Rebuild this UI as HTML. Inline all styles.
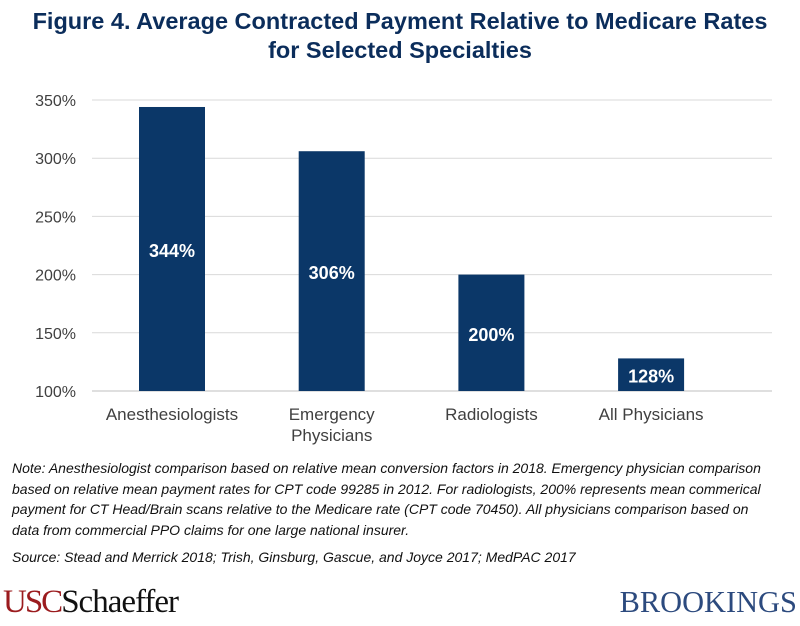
<!DOCTYPE html>
<html><head><meta charset="utf-8">
<style>
body{margin:0;width:800px;height:626px;background:#fff;font-family:"Liberation Sans",sans-serif;overflow:hidden;position:relative}
.title{position:absolute;left:0;width:800px;top:7px;text-align:center;color:#0b2d5b;font-weight:bold;font-size:23.5px;line-height:29px}
.note{position:absolute;left:12px;width:790px;top:458px;font-style:italic;font-size:14px;line-height:20.7px;color:#111;white-space:nowrap}
.src{position:absolute;left:12px;top:549px;font-style:italic;font-size:14px;color:#111}
.usc{position:absolute;left:3px;top:584px;font-family:"Liberation Serif",serif;font-size:33px;letter-spacing:-2px;line-height:36px}
.brk{position:absolute;right:3px;top:584px;font-family:"Liberation Serif",serif;font-size:31px;color:#2c4a7e;line-height:36px;transform:scaleX(0.98);transform-origin:right}
</style></head><body>
<div class="title">Figure 4. Average Contracted Payment Relative to Medicare Rates<br>for Selected Specialties</div>
<svg id="chart" width="800" height="450" style="position:absolute;left:0;top:0"></svg>
<div class="note">Note: Anesthesiologist comparison based on relative mean conversion factors in 2018. Emergency physician comparison<br>based on relative mean payment rates for CPT code 99285 in 2012. For radiologists, 200% represents mean commerical<br>payment for CT Head/Brain scans relative to the Medicare rate (CPT code 70450). All physicians comparison based on<br>data from commercial PPO claims for one large national insurer.</div>
<div class="src">Source: Stead and Merrick 2018; Trish, Ginsburg, Gascue, and Joyce 2017; MedPAC 2017</div>
<div class="usc"><span style="color:#9b1b1e">USC</span><span style="color:#111;letter-spacing:-1px">Schaeffer</span></div>
<div class="brk">BROOKINGS</div>
<script>
const categories=[["Anesthesiologists"],["Emergency","Physicians"],["Radiologists"],["All Physicians"]];
const values=[344,306,200,128];
const valueLabels=["344%","306%","200%","128%"];
const yTicks=[100,150,200,250,300,350];
const svg=document.getElementById('chart');
const NS="http://www.w3.org/2000/svg";
const y0=391,y1=100,vmin=100,vmax=350;
const y=v=>y0-(v-vmin)/(vmax-vmin)*(y0-y1);
const x=i=>172+i*159.7;
function mk(t,a){const e=document.createElementNS(NS,t);for(const k in a)e.setAttribute(k,a[k]);svg.appendChild(e);return e;}
yTicks.forEach(t=>{
  const l=mk('line',{x1:92,x2:772,y1:y(t),y2:y(t),stroke:t===vmin?'#bfbfbf':'#d9d9d9','stroke-width':1});
  
  
  const tx=mk('text',{x:76,y:y(t)+6,'text-anchor':'end','font-size':16,fill:'#404040'});
  tx.textContent=t+'%';
  
  
});
values.forEach((v,i)=>{
  const r=mk('rect',{x:x(i)-33,y:y(v),width:66,height:y(vmin)-y(v),fill:'#0b3768'});
  
  
  const t=mk('text',{x:x(i),y:(y(v)+y(vmin))/2+8,'text-anchor':'middle','font-size':18,'font-weight':'bold',fill:'#fff'});
  t.textContent=valueLabels[i];
  
  
  categories[i].forEach((s,j)=>{
    const c=mk('text',{x:x(i),y:420+j*21,'text-anchor':'middle','font-size':17,fill:'#404040'});
    c.textContent=s;
    
    
  });
});
</script>
</body></html>
